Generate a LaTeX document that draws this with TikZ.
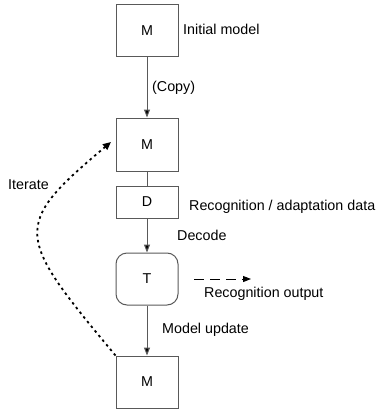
\documentclass[tikz,border=0pt]{standalone}
\usepackage{fontspec}
\setmainfont{Liberation Sans}
\usetikzlibrary{arrows.meta}
\begin{document}
\begin{tikzpicture}[x=1pt,y=-1pt,
  every node/.style={font=\fontsize{14.3}{16}\selectfont},
  box/.style={draw=black!65, line width=1pt, minimum width=62pt, inner sep=0pt},
  lbl/.style={anchor=mid west, inner sep=0pt},
  conn/.style={draw=black!65, line width=1pt},
  tip/.style={-{Triangle[length=8pt,width=6pt,fill=black]}}]
\useasboundingbox (0,0) rectangle (375,412);
\node[box, minimum height=52pt] (m1) at (147,31) {M};
\node[box, minimum height=53pt] (m2) at (147,144.5) {M};
\node[box, minimum height=32pt] (d) at (147,202) {D};
\node[box, minimum height=52pt, rounded corners=11pt] (t) at (147,279) {T};
\node[box, minimum height=52pt] (m3) at (147,382) {M};
\node[lbl] (l1) at (183,32) {Initial model};
\node[lbl] (l2) at (152,89) {(Copy)};
\node[lbl] (l3) at (189,208) {Recognition / adaptation data};
\node[lbl] (l4) at (177,238) {Decode};
\node[lbl] (l5) at (204,295) {Recognition output};
\node[lbl] (l6) at (162,331) {Model update};
\node[lbl] (l7) at (8,187) {Iterate};
\coordinate (os) at (194,279);
\coordinate (oe) at (251,279);
\coordinate (it) at (111,142);
\draw[conn, tip] (m1) -- (m2);
\draw[conn] (m2) -- (d);
\draw[conn, tip] (d) -- (t);
\draw[conn, tip] (t) -- (m3);
\draw[black, line width=1pt, dash pattern=on 10pt off 6pt, tip] (os) -- (oe);
\draw[black, line width=1.8pt, dash pattern=on 2.5pt off 3.5pt, -{Triangle[length=8pt,width=7pt]}]
  (m3.north west) .. controls (15,235) and (11,226) .. (it);
\end{tikzpicture}
\end{document}
